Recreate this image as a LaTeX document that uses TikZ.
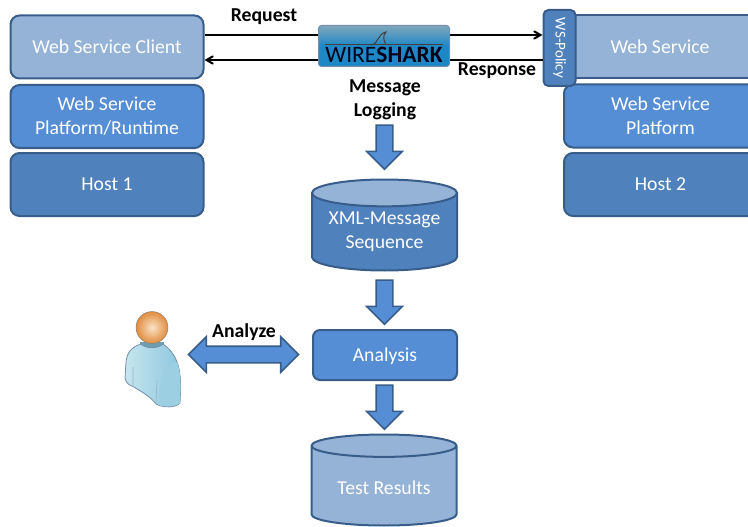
\documentclass[tikz,border=0pt]{standalone}
\usepackage{fontspec}
\setmainfont{Carlito}
\usetikzlibrary{positioning,arrows,shapes.geometric,shapes.arrows}
\definecolor{edgeblue}{HTML}{385D8A}
\definecolor{paleblue}{HTML}{95B3D7}
\definecolor{midblue}{HTML}{558ED5}
\definecolor{darkblue}{HTML}{4F81BD}
\definecolor{logoblue}{HTML}{1E88C7}
\definecolor{logotop}{HTML}{7FA6BC}
\definecolor{bodypale}{HTML}{C6E6EE}
\definecolor{bodyblue}{HTML}{8CC6DE}
\definecolor{skinpale}{HTML}{FBE3C8}
\definecolor{skindark}{HTML}{E08C3E}

\begin{document}
\begin{tikzpicture}[x=1pt,y=-1pt,>=angle 60,font=\fontsize{19.7}{24}\selectfont]
  \tikzstyle{every node}=[align=center]
  \tikzstyle{box}=[draw=edgeblue,line width=2pt,rounded corners=9pt,text=white,minimum width=193pt,minimum height=63pt,inner sep=0pt]
  \tikzstyle{flow}=[draw=edgeblue,line width=1.6pt,fill=midblue,single arrow,single arrow head extend=9.5pt,minimum width=35pt,minimum height=44pt,inner sep=7.5pt,anchor=center,shape border rotate=270]
  \tikzstyle{store}=[cylinder,shape border rotate=90,aspect=0.24,anchor=shape center,draw=edgeblue,line width=2pt,cylinder uses custom fill,cylinder body fill=darkblue,cylinder end fill=paleblue,text=white,minimum width=145pt,minimum height=91pt,inner sep=0pt]
  \tikzstyle{caption}=[text=black,font=\fontsize{19.7}{24}\selectfont\bfseries]
  \tikzstyle{link}=[black,line width=2pt]

  \useasboundingbox (0,0) rectangle (748,527);

  \node[box,fill=paleblue] (client)   at (107,47)  {Web Service Client};
  \node[box,fill=midblue]  (platform) at (107,116.5) {Web Service\\Platform/Runtime};
  \node[box,fill=darkblue] (host)     at (107,184.5) {Host 1};

  \node[box,fill=paleblue,rounded corners=0pt,minimum width=200pt] (service) at (660,47) {Web Service};
  \node[box,fill=midblue]  (sprovider) at (660.5,116) {Web Service\\Platform};
  \node[box,fill=darkblue] (shost)     at (660.5,184.5) {Host 2};
  \node[box,fill=darkblue,rounded corners=5pt,minimum width=76pt,minimum height=32pt,rotate=-90,font=\fontsize{15}{16}\selectfont] (policy) at (559.5,48) {WS-Policy};

  \draw[link,->] ([yshift=12pt]client.east) -- ([yshift=13pt]policy.south);
  \draw[link,->] ([yshift=-12pt]policy.south) -- ([yshift=-13pt]client.east);

  \node[draw=edgeblue!70,line width=1pt,rounded corners=3pt,top color=logotop,bottom color=logoblue,middle color=logoblue,minimum width=131pt,minimum height=41pt,inner sep=0pt] (wireshark) at (384,46) {};
  \node[inner sep=0pt,text=black!90!blue,font=\fontsize{23.5}{23.5}\selectfont] (logo) at (384,54.5) {WIRE\textbf{SHARK}};
  \draw[black!75,line width=1pt] (325,45) -- (443,45);
  \draw[black!75,line width=1pt] (371,45) .. controls (379,44) and (377,34) .. (386,32) .. controls (382,36) and (384,41) .. (386,45);

  \node[caption] (request)  at (264,17)  {Request};
  \node[caption] (response) at (497,71)  {Response};
  \node[caption] (logging)  at (385,99.5)  {Message\\Logging};
  \node[caption] (analyze)  at (244,332) {Analyze};

  \node[flow] (down1) at (384.5,143) {};
  \node[store] (sequence) at (384.5,225) {XML-Message\\Sequence};
  \node[flow] (down2) at (384.5,298) {};
  \node[box,fill=midblue,minimum width=144pt,minimum height=50pt,rounded corners=7pt,text depth=0pt] (analysis) at (385,355) {Analysis};
  \node[flow] (down3) at (384.5,403) {};
  \node[store,cylinder body fill=paleblue,text height=17pt] (results) at (384,480) {Test Results};

  \node[flow,shape=double arrow,double arrow head extend=9.5pt,minimum width=35pt,minimum height=110pt,shape border rotate=0] (exchange) at (243.5,354.5) {};

  \fill[bodyblue!80!black] (140,342) rectangle (164,352);
  \draw[edgeblue!70,left color=bodypale,right color=bodyblue,line width=0.8pt]
    (141,344) .. controls (132,347) and (127,352) .. (126,362)
    -- (125,378) .. controls (126,384) and (131,386) .. (134,387)
    .. controls (140,391) and (150,396) .. (156,404)
    .. controls (163,408) and (176,408) .. (180,403)
    .. controls (181,385) and (181,372) .. (177,362)
    .. controls (174,354) and (170,349) .. (163,344)
    .. controls (158,349) and (146,349) .. (141,344) -- cycle;
  \fill[bodyblue!85!white] (161,376) .. controls (165,366) and (172,362) .. (177,362)
    .. controls (181,372) and (181,385) .. (180,403) .. controls (175,407) and (165,407) .. (158,405) -- cycle;
  \draw[edgeblue!50,line width=0.6pt] (133,367) -- (133,387) (157,380) -- (156,404);
  \node[circle,draw=black!50,inner color=skinpale,outer color=skindark,minimum size=32pt,inner sep=0pt] (head) at (152,327.5) {};
\end{tikzpicture}
\end{document}
